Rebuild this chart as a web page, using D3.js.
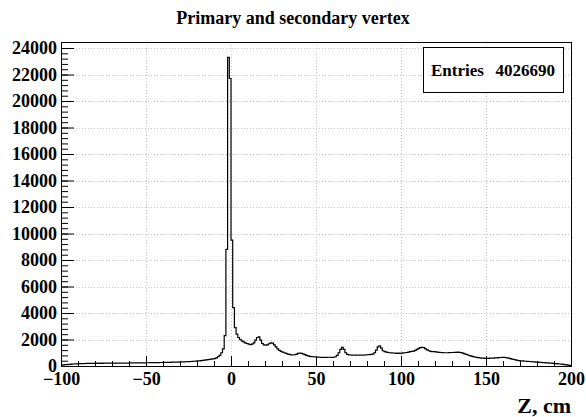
<html>
<head>
<meta charset="utf-8">
<title>Primary and secondary vertex</title>
<style>
body { margin: 0; background: #fff; }
svg text { font-family: "Liberation Serif", "Times New Roman", serif; font-weight: bold; fill: #000; }
</style>
</head>
<body>
<script src="https://cdn.jsdelivr.net/npm/d3@7"></script>
<script>
 // histogram: 1 cm bins from -100 to 200
 var binLow = -100;
 var binWidth = 1;
 var counts = [
   // -100 .. -51
   60, 80, 100, 110, 120, 130, 140, 150, 160, 165,
   170, 175, 180, 185, 190, 195, 200, 200, 205, 200,
   205, 210, 205, 210, 205, 210, 215, 210, 215, 210,
   215, 220, 215, 220, 215, 220, 225, 220, 225, 220,
   225, 230, 225, 230, 235, 230, 235, 240, 235, 240,
   // -50 .. -1
   245, 245, 250, 250, 255, 255, 260, 260, 265, 265,
   270, 270, 275, 280, 280, 285, 290, 290, 295, 300,
   305, 310, 315, 320, 325, 330, 340, 350, 360, 370,
   380, 390, 400, 420, 440, 460, 480, 500, 520, 540,
   560, 620, 700, 800, 1000, 1300, 2300, 8800, 23290, 21700,
   // 0 .. 49
   9500, 4400, 2900, 2400, 2150, 2000, 1900, 1820, 1750, 1700,
   1650, 1620, 1650, 1750, 1950, 2150, 2200, 1950, 1700, 1600,
   1580, 1600, 1680, 1750, 1720, 1600, 1450, 1300, 1180, 1100,
   1050, 1000, 950, 900, 870, 840, 830, 850, 880, 950,
   980, 960, 920, 860, 800, 760, 730, 710, 700, 690,
   // 50 .. 99
   680, 670, 660, 650, 650, 640, 650, 660, 660, 650,
   660, 700, 800, 1000, 1250, 1400, 1250, 1000, 880, 840,
   830, 820, 830, 820, 810, 820, 830, 820, 830, 840,
   850, 860, 870, 900, 1000, 1200, 1450, 1530, 1350, 1150,
   1080, 1050, 1020, 1000, 990, 980, 970, 960, 970, 960,
   // 100 .. 149
   970, 990, 1000, 1020, 1050, 1080, 1100, 1130, 1180, 1250,
   1330, 1390, 1410, 1380, 1300, 1220, 1150, 1110, 1090, 1080,
   1060, 1050, 1030, 1020, 1010, 1000, 1000, 1000, 1010, 1020,
   1020, 1030, 1030, 1040, 1030, 1010, 970, 920, 870, 830,
   790, 750, 710, 680, 650, 630, 610, 600, 590, 580,
   // 150 .. 199
   580, 580, 590, 590, 600, 610, 620, 630, 640, 650,
   650, 640, 620, 590, 560, 520, 490, 460, 430, 410,
   390, 380, 370, 360, 350, 340, 330, 320, 310, 300,
   290, 280, 270, 260, 250, 240, 230, 220, 210, 200,
   190, 175, 160, 150, 140, 120, 100, 90, 70, 50
 ];
 var xTicks = [-100, -50, 0, 50, 100, 150, 200];
 var yTicks = [0, 2000, 4000, 6000, 8000, 10000, 12000, 14000, 16000, 18000, 20000, 22000, 24000];
 var title = "Primary and secondary vertex";
 var xTitle = "Z, cm";
 var entries = 4026690;

 var W = 586, H = 417;
 var padL = 61, padR = 571, padT = 42, padB = 366;

 var svg = d3.select("body").append("svg")
     .attr("width", W)
     .attr("height", H);

 var x = d3.scaleLinear().domain([-100, 200]).range([padL, padR]);
 var y = d3.scaleLinear().domain([0, 1.05 * d3.max(counts)]).range([padB, padT]);

 // grid
 var grid = svg.append("g")
     .attr("stroke", "#c8c8c8")
     .attr("stroke-dasharray", "1,2")
     .attr("stroke-width", 1);
 grid.selectAll("line.gx").data(xTicks.slice(1, -1)).enter().append("line")
     .attr("x1", function(d) { return Math.round(x(d)) + 0.5; })
     .attr("x2", function(d) { return Math.round(x(d)) + 0.5; })
     .attr("y1", padT).attr("y2", padB);
 grid.selectAll("line.gy").data(yTicks.slice(1)).enter().append("line")
     .attr("x1", padL).attr("x2", padR)
     .attr("y1", function(d) { return Math.round(y(d)) + 0.5; })
     .attr("y2", function(d) { return Math.round(y(d)) + 0.5; });

 // histogram outline
 var pts = counts.map(function(c, i) { return [binLow + i * binWidth, c]; });
 pts.push([binLow + counts.length * binWidth, counts[counts.length - 1]]);
 var line = d3.line()
     .x(function(d) { return x(d[0]); })
     .y(function(d) { return y(d[1]); })
     .curve(d3.curveStepAfter);
 svg.append("path")
     .attr("d", line(pts))
     .attr("fill", "none")
     .attr("stroke", "#000")
     .attr("stroke-width", 1.2);

 // axes
 var yMinor = d3.range(0, 24001, 400);
 var xMinor = d3.range(-100, 201, 10);

 svg.append("g")
     .attr("transform", "translate(" + padL + ",0)")
     .call(d3.axisLeft(y).tickValues(yMinor).tickSize(-7).tickFormat(""))
     .call(function(g) { g.select(".domain").remove(); });
 var ya = svg.append("g")
     .attr("transform", "translate(" + padL + ",0)")
     .call(d3.axisLeft(y).tickValues(yTicks).tickSize(-13).tickPadding(4).tickFormat(d3.format("d")))
     .call(function(g) { g.select(".domain").remove(); });
 ya.selectAll("text").attr("font-size", 18).attr("font-family", null);

 svg.append("g")
     .attr("transform", "translate(0," + padB + ")")
     .call(d3.axisBottom(x).tickValues(xMinor).tickSize(-5).tickFormat(""))
     .call(function(g) { g.select(".domain").remove(); });
 var xa = svg.append("g")
     .attr("transform", "translate(0," + padB + ")")
     .call(d3.axisBottom(x).tickValues(xTicks).tickSize(-10).tickPadding(6))
     .call(function(g) { g.select(".domain").remove(); });
 xa.selectAll("text").attr("font-size", 18).attr("font-family", null);

 // frame
 svg.append("rect")
     .attr("x", padL + 0.5).attr("y", padT + 0.5)
     .attr("width", padR - padL).attr("height", padB - padT)
     .attr("fill", "none")
     .attr("stroke", "#000");

 // titles
 svg.append("text")
     .attr("x", W / 2).attr("y", 24)
     .attr("text-anchor", "middle")
     .attr("font-size", 18)
     .text(title);
 svg.append("text")
     .attr("x", padR).attr("y", 413)
     .attr("text-anchor", "end")
     .attr("font-size", 22)
     .text(xTitle);

 // stats box
 svg.append("rect")
     .attr("x", 423.5).attr("y", 47.5)
     .attr("width", 140).attr("height", 45)
     .attr("fill", "#fff")
     .attr("stroke", "#000");
 svg.append("text")
     .attr("x", 431).attr("y", 76)
     .attr("font-size", 17)
     .text("Entries");
 svg.append("text")
     .attr("x", 555).attr("y", 76)
     .attr("text-anchor", "end")
     .attr("font-size", 17)
     .text(entries);
</script>
</body>
</html>
